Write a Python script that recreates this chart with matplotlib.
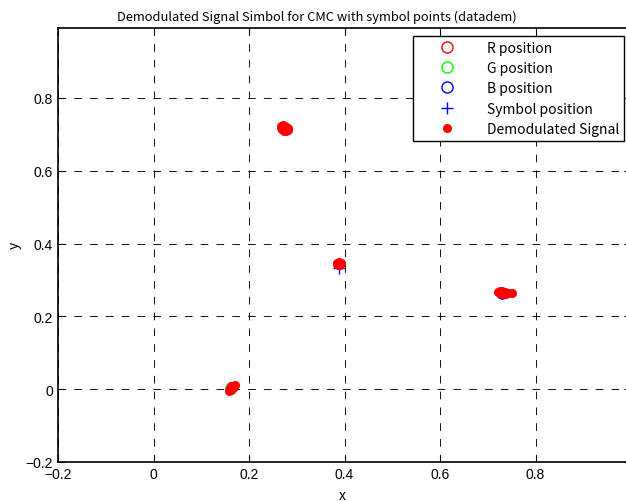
import numpy as np
import matplotlib
matplotlib.use("Agg")
import matplotlib.pyplot as plt

# reference symbol positions (circles hidden under the signal clusters)
r_pos = (0.272, 0.716)
g_pos = (0.163, 0.004)
b_pos = (0.730, 0.265)
symbol_x = [0.272, 0.388, 0.163, 0.730]
symbol_y = [0.716, 0.333, 0.004, 0.265]

# demodulated signal samples
sig_x = [0.268, 0.271, 0.275, 0.279, 0.282, 0.270, 0.274, 0.278, 0.281, 0.276, 0.273, 0.269,
         0.385, 0.388, 0.391, 0.386, 0.390, 0.389, 0.384, 0.392,
         0.722, 0.726, 0.730, 0.734, 0.738, 0.728, 0.732, 0.736, 0.742, 0.750,
         0.158, 0.161, 0.164, 0.167, 0.170, 0.160, 0.163, 0.166, 0.169, 0.162]
sig_y = [0.724, 0.726, 0.722, 0.716, 0.712, 0.718, 0.714, 0.710, 0.716, 0.720, 0.710, 0.714,
         0.346, 0.349, 0.345, 0.341, 0.340, 0.344, 0.343, 0.347,
         0.266, 0.270, 0.268, 0.264, 0.262, 0.262, 0.266, 0.268, 0.263, 0.263,
         -0.004, 0.000, 0.003, 0.008, 0.012, 0.004, -0.002, 0.010, 0.006, 0.008]

xticks = [-0.2, 0, 0.2, 0.4, 0.6, 0.8]
yticks = [-0.2, 0, 0.2, 0.4, 0.6, 0.8]
tick_labels = ['\u22120.2', '0', '0.2', '0.4', '0.6', '0.8']

plt.rcParams['font.family'] = ['Liberation Sans', 'DejaVu Sans']
jp = ['Noto Sans CJK JP', 'DejaVu Sans']

fig = plt.figure(figsize=(6.26, 5.02), dpi=100)
ax = fig.add_axes([58 / 626, 39 / 502, 573 / 626, 434 / 502])

ax.plot(*r_pos, 'o', mfc='none', mec='red', ms=8, label='R position')
ax.plot(*g_pos, 'o', mfc='none', mec='lime', ms=8, label='G position')
ax.plot(*b_pos, 'o', mfc='none', mec='blue', ms=8, label='B position')
ax.plot(symbol_x, symbol_y, '+', color='blue', ms=8, mew=1, ls='none', label='Symbol position')
ax.plot(sig_x, sig_y, '.', color='red', ms=11, ls='none', label='Demodulated Signal')

ax.set_xlim(-0.2, 1.0)
ax.set_ylim(-0.2, 0.992)
ax.set_xticks(xticks)
ax.set_yticks(yticks)
ax.set_xticklabels(tick_labels, fontsize=10)
ax.set_yticklabels(tick_labels, fontsize=10)
ax.tick_params(direction='in', length=5, width=0.8, top=True, right=True)
ax.grid(True, color='black', ls=(0, (8.5, 9)), lw=0.65)
for s in ax.spines.values():
    s.set_linewidth(1.2)

fig.text(317 / 626, 1 - 17 / 502, 'Demodulated Signal Simbol for CMC with symbol points (datadem)',
         fontsize=9.3, family=jp, ha='center', va='center')
fig.text(342 / 626, 1 - 496 / 502, 'x', fontsize=10, family=jp, ha='center', va='center')
fig.text(15 / 626, 1 - 245 / 502, 'y', fontsize=10, family=jp, ha='center', va='center',
         rotation=90)

leg = ax.legend(loc='upper left', bbox_to_anchor=((413 - 58) / 573, (463 - 37) / 434),
                prop={'family': jp, 'size': 10},
                fancybox=False, edgecolor='black', framealpha=1,
                handlelength=4.2, labelspacing=0.45, borderpad=0.35, handletextpad=0.8,
                borderaxespad=0)
leg.get_frame().set_linewidth(1.0)

fig.savefig('out.png', dpi=100)
